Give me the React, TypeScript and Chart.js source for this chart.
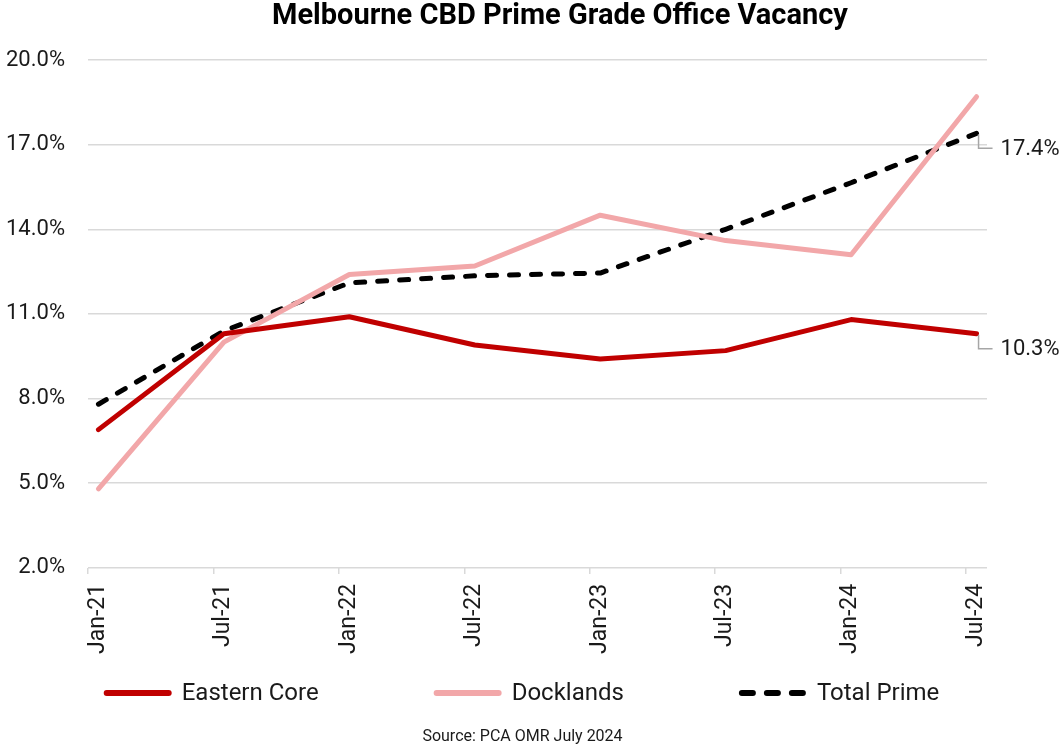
import React, { useEffect, useRef } from "react";
import { Chart, registerables } from "chart.js";

Chart.register(...registerables);

const TITLE = "Melbourne CBD Prime Grade Office Vacancy";
const SOURCE = "Source: PCA OMR July 2024";
const categories = ["Jan-21", "Jul-21", "Jan-22", "Jul-22", "Jan-23", "Jul-23", "Jan-24", "Jul-24"];
const easternCore = [6.9, 10.3, 10.9, 9.9, 9.4, 9.7, 10.8, 10.3];
const docklands = [4.8, 10.0, 12.4, 12.7, 14.5, 13.6, 13.1, 18.7];
const totalPrime = [7.8, 10.4, 12.1, 12.35, 12.45, 14.0, 15.65, 17.4];
const yTicks = [2, 5, 8, 11, 14, 17, 20];
const labelledSeries = [0, 2];

const FONT = "Roboto, 'Noto Sans', sans-serif";
const MONTHS_PER_CAT = 6;

const toPoints = (vals: number[]) =>
  vals.map((v, i) => ({ x: i * MONTHS_PER_CAT + 0.5, y: v }));

const endLabelsPlugin = {
  id: "endLabels",
  afterDatasetsDraw(chart: any) {
    const ctx = chart.ctx;
    labelledSeries.forEach((di) => {
      const meta = chart.getDatasetMeta(di);
      const pts = meta.data;
      const last = pts[pts.length - 1];
      const vals = chart.data.datasets[di].data;
      const v = vals[vals.length - 1].y;
      const px = last.x;
      const py = last.y;
      ctx.save();
      ctx.strokeStyle = "#a6a6a6";
      ctx.lineWidth = 1.5;
      ctx.beginPath();
      ctx.moveTo(px + 2, py + 1);
      ctx.lineTo(px + 2, py + 15);
      ctx.lineTo(px + 16, py + 15);
      ctx.stroke();
      ctx.fillStyle = "#1a1a1a";
      ctx.font = `22px ${FONT}`;
      ctx.textAlign = "left";
      ctx.textBaseline = "middle";
      ctx.fillText(v.toFixed(1) + "%", px + 24, py + 16);
      ctx.restore();
    });
  },
};

const decorPlugin = {
  id: "decor",
  afterDraw(chart: any) {
    const ctx = chart.ctx;
    const ds = chart.data.datasets;
    ctx.save();
    // title
    ctx.fillStyle = "#000";
    ctx.font = `bold 29px ${FONT}`;
    ctx.textAlign = "center";
    ctx.textBaseline = "middle";
    ctx.fillText(TITLE, 560, 17);
    // legend
    const lineW = 68;
    const gapText = 10;
    const gapItems = 115;
    ctx.font = `24px ${FONT}`;
    const widths = ds.map((d: any) => lineW + gapText + ctx.measureText(d.label).width);
    const total = widths.reduce((a: number, b: number) => a + b, 0) + gapItems * (ds.length - 1);
    let x = chart.width / 2 - total / 2 - 9;
    const y = 693;
    ds.forEach((d: any, i: number) => {
      ctx.strokeStyle = d.borderColor;
      ctx.lineWidth = d.borderWidth + 1;
      ctx.lineCap = "round";
      ctx.setLineDash(d.borderDash && d.borderDash.length ? [11, 14] : []);
      ctx.beginPath();
      ctx.moveTo(x + 3, y);
      ctx.lineTo(x + lineW - 3, y);
      ctx.stroke();
      ctx.setLineDash([]);
      ctx.fillStyle = "#1a1a1a";
      ctx.textAlign = "left";
      ctx.textBaseline = "middle";
      ctx.fillText(d.label, x + lineW + gapText, y + 1);
      x += widths[i] + gapItems;
    });
    ctx.font = `16px ${FONT}`;
    ctx.textAlign = "center";
    ctx.fillText(SOURCE, chart.width / 2 - 8, 737);
    ctx.restore();
  },
};

export default function App() {
  const ref = useRef<HTMLCanvasElement | null>(null);
  useEffect(() => {
    document.body.style.margin = "0";
    const canvas = ref.current;
    if (!canvas) return;
    const chart = new Chart(canvas, {
      type: "line",
      data: {
        datasets: [
          {
            label: "Eastern Core",
            data: toPoints(easternCore),
            borderColor: "#C00000",
            backgroundColor: "#C00000",
            borderWidth: 5,
            pointRadius: 0,
            tension: 0,
            borderCapStyle: "round",
            borderJoinStyle: "round",
          },
          {
            label: "Docklands",
            data: toPoints(docklands),
            borderColor: "#F2A7A9",
            backgroundColor: "#F2A7A9",
            borderWidth: 5,
            pointRadius: 0,
            tension: 0,
            borderCapStyle: "round",
            borderJoinStyle: "round",
          },
          {
            label: "Total Prime",
            data: toPoints(totalPrime),
            borderColor: "#000000",
            backgroundColor: "#000000",
            borderWidth: 5,
            borderDash: [9, 13],
            pointRadius: 0,
            tension: 0,
            borderCapStyle: "round",
            borderJoinStyle: "round",
          },
        ],
      },
      options: {
        responsive: false,
        animation: false,
        layout: { padding: { left: -17, right: 74, top: 60, bottom: 81 } },
        plugins: {
          legend: { display: false },
          tooltip: { enabled: false },
          title: { display: false },
        },
        scales: {
          x: {
            type: "linear",
            min: 0,
            max: categories.length * MONTHS_PER_CAT - 5,
            afterBuildTicks: (axis: any) => {
              axis.ticks = categories.map((_, i) => ({ value: i * MONTHS_PER_CAT }));
            },
            ticks: {
              autoSkip: false,
              maxRotation: 90,
              minRotation: 90,
              labelOffset: 10,
              padding: 10,
              color: "#1a1a1a",
              font: { family: FONT, size: 23 },
              callback: (v: any) => categories[Math.round(Number(v) / MONTHS_PER_CAT)] ?? "",
            },
            grid: {
              drawOnChartArea: false,
              drawTicks: true,
              tickLength: 6,
              color: "#d9d9d9",
              lineWidth: 1.5,
            },
            border: { display: false },
          },
          y: {
            min: yTicks[0],
            max: yTicks[yTicks.length - 1],
            afterBuildTicks: (axis: any) => {
              axis.ticks = yTicks.map((v) => ({ value: v }));
            },
            ticks: {
              padding: 23,
              color: "#1a1a1a",
              font: { family: FONT, size: 22 },
              callback: (v: any) => Number(v).toFixed(1) + "%",
            },
            grid: { drawTicks: false, color: "#d9d9d9", lineWidth: 1.5 },
            border: { display: false },
          },
        },
      },
      plugins: [endLabelsPlugin, decorPlugin],
    });
    return () => chart.destroy();
  }, []);
  return <canvas ref={ref} width={1061} height={745} style={{ display: "block" }} />;
}
